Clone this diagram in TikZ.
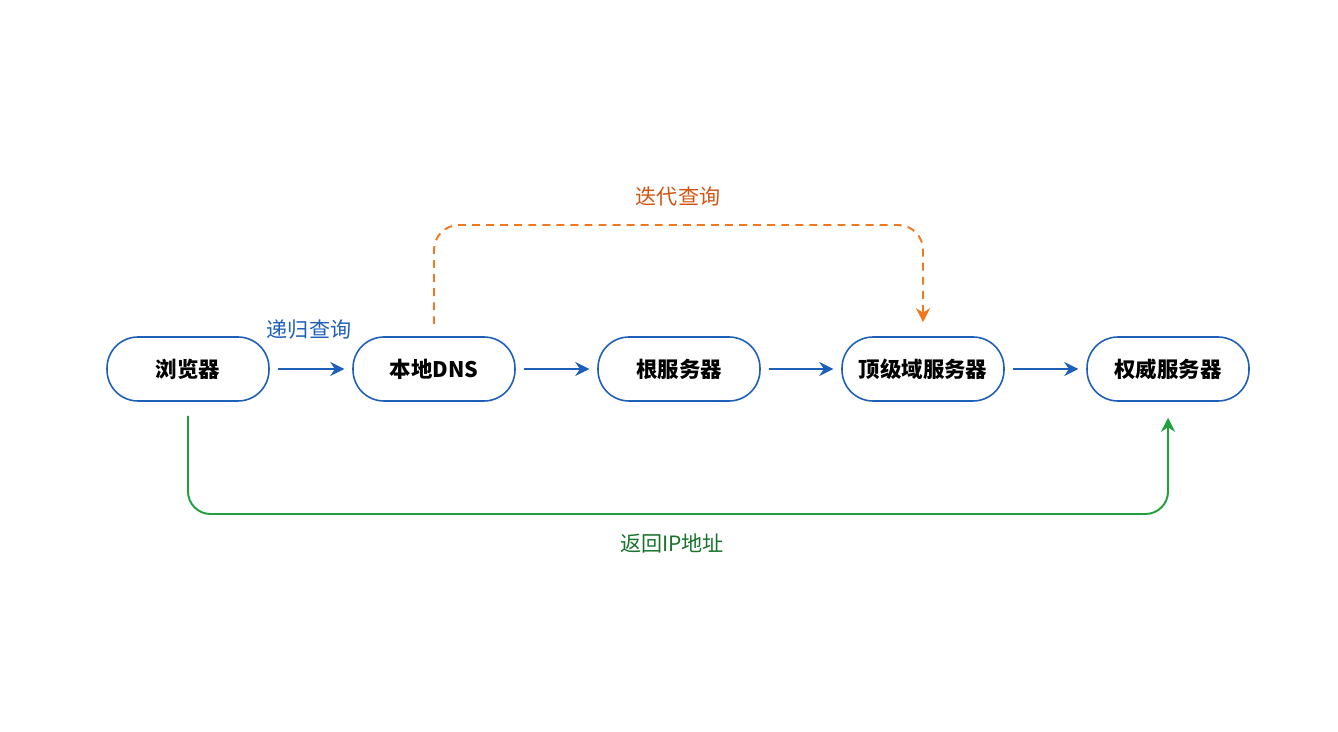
\documentclass[tikz,border=0pt]{standalone}
\usepackage{fontspec}
\setmainfont{Noto Sans CJK SC}
\usetikzlibrary{arrows.meta}
\definecolor{boxblue}{RGB}{30,95,185}
\definecolor{itorange}{RGB}{240,120,30}
\definecolor{itlabel}{RGB}{210,85,20}
\definecolor{retgreen}{RGB}{30,160,60}
\definecolor{retlabel}{RGB}{25,115,45}
\tikzset{
  srv/.style={draw=boxblue,line width=0.9pt,rounded corners=0.62cm,minimum width=3.24cm,minimum height=1.28cm,font=\fontsize{12.2}{14}\selectfont\bfseries},
  flow/.style={draw=boxblue,line width=1.1pt,shorten <=4.5pt,shorten >=4.5pt,-{Stealth[length=8pt,width=8pt]}},
  iter/.style={draw=itorange,line width=1.1pt,dash pattern=on 4.5pt off 3.5pt,rounded corners=0.5cm,-{Stealth[length=8pt,width=8pt]}},
  ret/.style={draw=retgreen,line width=1.1pt,rounded corners=0.45cm,-{Stealth[length=8pt,width=8pt]}},
  lbl/.style={font=\fontsize{12}{14}\selectfont}
}
\begin{document}
\begin{tikzpicture}[x=0.02cm,y=-0.02cm]
\useasboundingbox[fill=white] (0,0) rectangle (1338,732);
\node[srv] (browser) at (188,369) {浏览器};
\node[srv] (dns) at (434,369) {本地DNS};
\node[srv] (root) at (679,369) {根服务器};
\node[srv] (tld) at (923,369) {顶级域服务器};
\node[srv] (auth) at (1168,369) {权威服务器};
\draw[flow] (browser) -- (dns);
\draw[flow] (dns) -- (root);
\draw[flow] (root) -- (tld);
\draw[flow] (tld) -- (auth);
\node[lbl,text=boxblue] (reclbl) at (309,330) {递归查询};
\coordinate (itop) at (678,225);
\draw[iter] ([yshift=0.24cm]dns.north) |- (itop) -| ([yshift=0.28cm]tld.north);
\node[lbl,text=itlabel] (itlbl) at (678,197) {迭代查询};
\coordinate (rbot) at (678,514);
\draw[ret] ([yshift=-0.28cm]browser.south) |- (rbot) -| ([yshift=-0.32cm]auth.south);
\node[lbl,text=retlabel] (retlbl) at (672,543) {返回IP地址};
\end{tikzpicture}
\end{document}
